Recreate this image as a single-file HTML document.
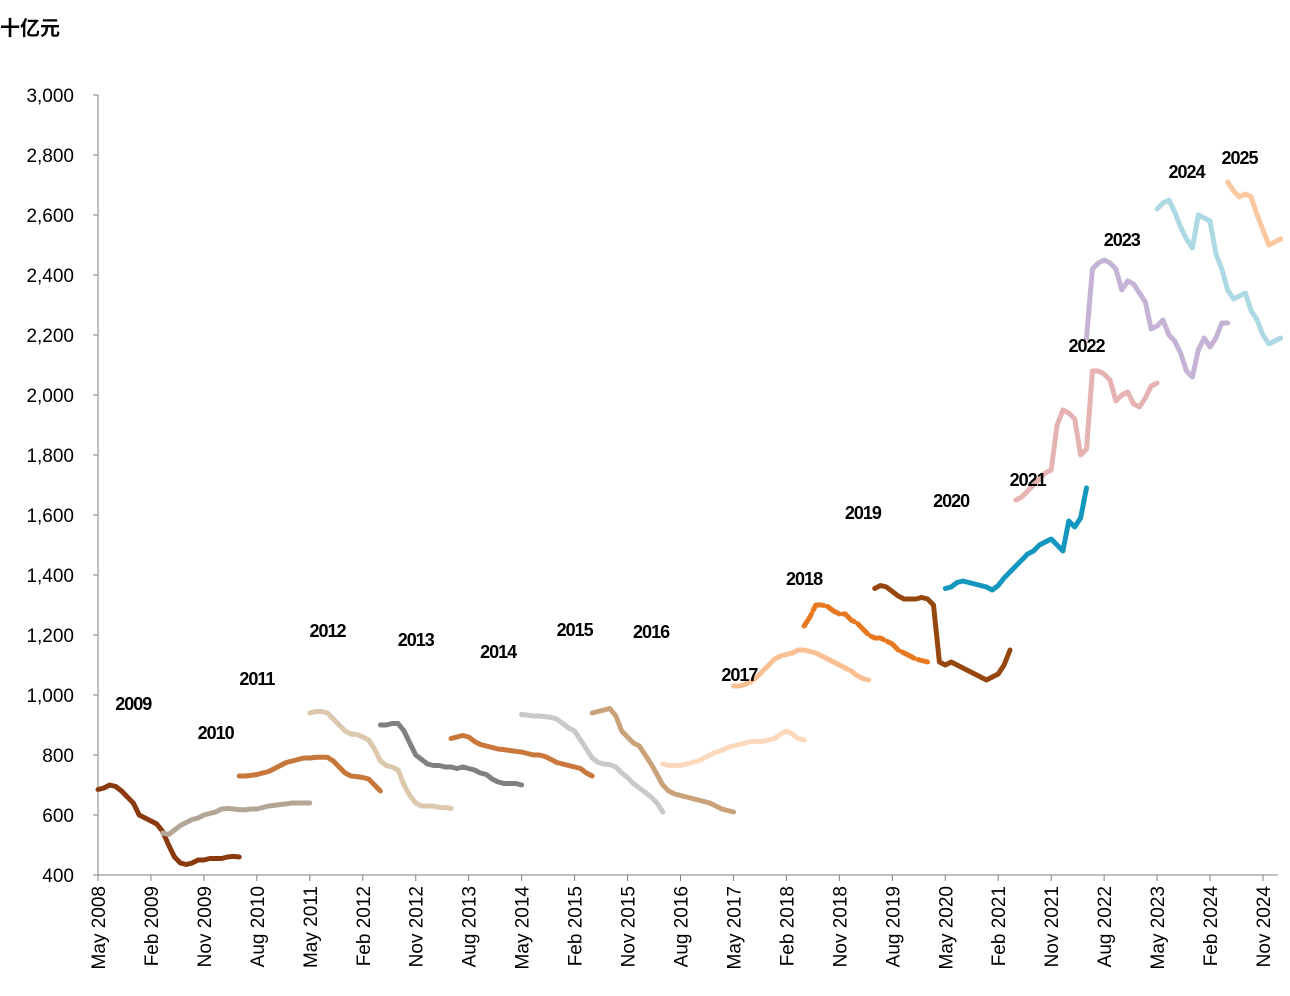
<!DOCTYPE html>
<html><head><meta charset="utf-8"><style>
html,body{margin:0;padding:0;background:#fff;}
svg{display:block;font-family:"Liberation Sans","Noto Sans CJK SC",sans-serif;}
</style></head><body>
<svg id="chart" width="1290" height="996" viewBox="0 0 1290 996">
<text x="0" y="35" font-size="20" font-weight="bold">十亿元</text>
<g id="axes"></g><g id="series"></g><g id="labels"></g>
</svg>
<script>
const yTicks=[400,600,800,1000,1200,1400,1600,1800,2000,2200,2400,2600,2800,3000];
const xTickLabels=["May 2008","Feb 2009","Nov 2009","Aug 2010","May 2011","Feb 2012","Nov 2012","Aug 2013","May 2014","Feb 2015","Nov 2015","Aug 2016","May 2017","Feb 2018","Nov 2018","Aug 2019","May 2020","Feb 2021","Nov 2021","Aug 2022","May 2023","Feb 2024","Nov 2024"];
const seriesNames=["2009","2010","2011","2012","2013","2014","2015","2016","2017","2018","2019","2020","2021","2022","2023","2024","2025"];
const seriesStart=[0,11,24,36,48,60,72,84,96,108,120,132,144,156,168,180,192];
const s2009=[685,690,700,695,680,660,640,600,590,580,570,545,500,460,440,435,440,450,450,455,455,455,460,462,460];
const s2010=[540,535,550,565,575,585,590,600,605,610,620,622,620,618,617,620,620,625,630,632,635,637,640,640,640,640];
const s2011=[730,730,732,735,740,745,755,765,775,780,785,790,790,792,793,792,780,760,740,730,728,725,720,700,680];
const s2012=[940,945,945,940,920,900,880,870,868,860,850,820,780,765,760,750,700,665,640,630,630,630,625,625,622];
const s2013=[900,900,905,905,880,840,800,785,770,765,765,760,760,755,760,755,750,740,735,720,710,705,705,705,700];
const s2014=[855,860,865,860,845,835,830,825,820,818,815,812,810,805,800,800,795,785,775,770,765,760,755,740,730];
const s2015=[935,933,930,930,928,925,920,905,890,880,850,820,790,775,770,768,760,740,725,705,690,675,660,640,610];
const s2016=[940,945,950,955,930,880,860,840,830,800,770,735,700,680,670,665,660,655,650,645,640,630,620,615,610];
const s2017=[770,765,765,765,770,775,780,790,800,810,815,825,830,835,840,845,845,845,850,855,870,880,870,855,850];
const s2018=[1030,1030,1035,1045,1060,1080,1100,1120,1130,1135,1140,1150,1150,1145,1140,1130,1120,1110,1100,1090,1080,1065,1055,1050];
const s2019=[1230,1260,1300,1300,1295,1280,1270,1270,1250,1240,1220,1200,1190,1190,1180,1170,1150,1140,1130,1120,1115,1110];
const s2020=[1355,1365,1360,1345,1330,1320,1320,1320,1325,1320,1300,1110,1100,1110,1100,1090,1080,1070,1060,1050,1060,1070,1100,1150];
const s2021=[1355,1360,1375,1380,1375,1370,1365,1360,1350,1365,1390,1410,1430,1450,1470,1480,1500,1510,1520,1500,1480,1580,1560,1590,1690];
const s2022=[1650,1660,1680,1700,1720,1740,1750,1900,1950,1940,1920,1800,1820,2080,2080,2070,2050,1980,2000,2010,1970,1960,1990,2030,2040];
const s2023=[2190,2420,2440,2450,2440,2420,2350,2380,2370,2340,2310,2220,2230,2250,2200,2180,2140,2080,2060,2150,2190,2160,2190,2240,2240];
const s2024=[2620,2640,2650,2610,2560,2520,2490,2600,2590,2580,2470,2420,2350,2320,2330,2340,2280,2250,2200,2170,2180,2190];
const s2025=[2710,2680,2660,2670,2660,2600,2550,2500,2510,2520];
const seriesValues=[s2009,s2010,s2011,s2012,s2013,s2014,s2015,s2016,s2017,s2018,s2019,s2020,s2021,s2022,s2023,s2024,s2025];
const labelMonth=[6,20,27,39,54,68,81,94,109,120,130,145,158,168,174,185,194];
const labelValue=[970,873,1053,1213,1183,1143,1217,1210,1067,1387,1607,1647,1717,2163,2517,2743,2790];
const colors=["#8b3a0f","#b3a696","#c8773a","#dbc8ad","#808080","#c9773a","#c9c9c9","#c9a27a","#fcd9bd","#fbbf94","#e8781f","#95470f","#1497be","#e6b3b3","#c5b3d6","#acd9e3","#fbc79f"];
const X=m=>98+m*(1165/198);
const Y=v=>875-(v-400)*0.3;
const NS="http://www.w3.org/2000/svg";
function mk(tag,attrs,parent,txt){const e=document.createElementNS(NS,tag);for(const k in attrs)e.setAttribute(k,attrs[k]);if(txt!==undefined)e.textContent=txt;parent.appendChild(e);return e;}
const axes=document.getElementById('axes');
const ya=mk('line',{x1:98,y1:95,x2:98,y2:875,stroke:'#808080','stroke-width':1},axes);


const xa=mk('line',{x1:98,y1:875,x2:1278,y2:875,stroke:'#808080','stroke-width':1},axes);


yTicks.forEach(v=>{
  mk('line',{x1:93,y1:Y(v),x2:98,y2:Y(v),stroke:'#808080'},axes);
  const t=mk('text',{x:74,y:Y(v)+7,'text-anchor':'end','font-size':19,fill:'#000'},axes,v.toLocaleString('en-US'));
  
  
});
xTickLabels.forEach((s,i)=>{
  const x=X(i*9);
  mk('line',{x1:x,y1:875,x2:x,y2:881,stroke:'#808080'},axes);
  const t=mk('text',{x:0,y:0,'text-anchor':'end','font-size':19,transform:`translate(${x+7},886) rotate(-90)`},axes,s);
  
  
});
const sg=document.getElementById('series');
seriesValues.forEach((vals,i)=>{
  const d=vals.map((v,j)=>(j?'L':'M')+X(seriesStart[i]+j).toFixed(1)+','+Y(v).toFixed(1)).join(' ');
  const attrs={d:d,fill:'none',stroke:colors[i],'stroke-width':5,'stroke-linejoin':'round','stroke-linecap':'round'};
  if(seriesNames[i]==='2019')attrs['stroke-dasharray']='14 4';
  const p=mk('path',attrs,sg);
  
  
});
const lg=document.getElementById('labels');
seriesNames.forEach((n,i)=>{
  const t=mk('text',{x:X(labelMonth[i]),y:Y(labelValue[i])+6,'text-anchor':'middle','font-size':18,'font-weight':'bold','letter-spacing':'-1'},lg,n);
  
  
});
</script>
</body></html>
